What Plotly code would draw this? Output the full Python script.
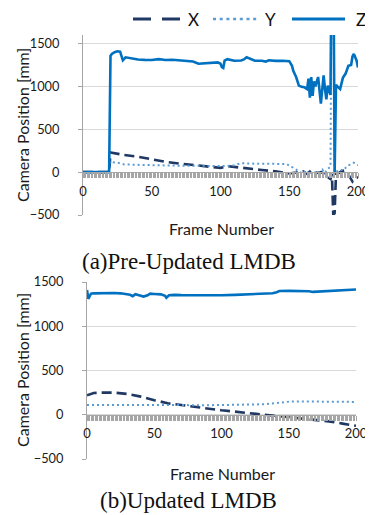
import plotly.graph_objects as go

# ---------------- data ----------------
# (a) Pre-Updated LMDB
a_z_frames = [0, 19, 20, 21, 23, 25, 27, 28, 29, 31, 35, 40, 45, 50, 55, 60, 65, 70, 75, 80, 84, 90, 95, 98, 100,
              101, 102, 103, 105, 110, 115, 117, 119, 121, 125, 130, 133, 135, 140, 145, 150, 152, 153, 155, 157,
              159, 161, 163, 164, 165, 166, 167, 168, 169, 171, 173, 175, 176, 177, 178, 180, 181, 182, 183, 184,
              185, 187, 189, 191, 193, 195, 196, 197, 199, 200]
a_z_values = [0, 0, 1355, 1380, 1400, 1410, 1405, 1340, 1305, 1340, 1325, 1315, 1310, 1308, 1318, 1308, 1312, 1305,
              1300, 1290, 1265, 1272, 1275, 1280, 1265, 1225, 1215, 1300, 1318, 1300, 1302, 1315, 1340, 1325, 1300,
              1300, 1290, 1305, 1298, 1300, 1295, 1240, 1180, 1110, 1010, 995, 990, 970, 1090, 870, 1110, 890, 1060,
              1000, 1110, 800, 1130, 970, 850, 1010, 900, 3000, 3000, -20, 1020, 1000, 970, 1100, 1150, 1240, 1250,
              1350, 1380, 1300, 1220]

a_x_frames = [0, 19, 20, 25, 30, 40, 50, 60, 70, 80, 90, 100, 105, 110, 120, 130, 140, 150, 155, 160, 163, 166, 170,
              173, 176, 178, 180, 181, 182, 183, 184, 186, 188, 190, 192, 194, 196, 198, 200]
a_x_values = [0, 0, 230, 215, 200, 180, 150, 120, 100, 85, 70, 50, 70, 60, 45, 25, 10, -15, -5, 10, -20, 20, -10,
              0, -20, -60, -80, -20, -500, -480, -20, -10, 10, 20, 0, -60, -110, -70, -60]

a_y_frames = [0, 19, 20, 22, 25, 30, 40, 50, 60, 70, 80, 90, 100, 105, 110, 115, 120, 130, 140, 148, 152, 155, 158,
              160, 162, 165, 167, 170, 172, 174, 176, 178, 180, 181, 182, 183, 185, 187, 189, 191, 193, 195, 197, 200]
a_y_values = [0, 0, 130, 115, 110, 90, 85, 80, 80, 75, 75, 70, 65, 70, 80, 105, 100, 100, 100, 95, 60, 30, 0, -20,
              20, -30, 10, -20, 0, 30, -10, 40, 60, 3000, 3000, 0, 10, 30, 20, 50, 80, 90, 110, 80]

# (b) Updated LMDB
b_z_frames = [0, 1, 2, 3, 5, 10, 15, 20, 25, 29, 32, 34, 36, 40, 42, 45, 47, 50, 55, 58, 59, 61, 65, 70, 80, 90,
              100, 110, 120, 130, 138, 141, 143, 150, 160, 165, 168, 172, 178, 183, 190, 195, 200]
b_z_values = [1410, 1310, 1340, 1368, 1372, 1375, 1378, 1375, 1372, 1365, 1355, 1340, 1362, 1345, 1335, 1350, 1368,
              1365, 1360, 1345, 1322, 1350, 1355, 1352, 1350, 1350, 1350, 1355, 1360, 1368, 1372, 1385, 1398, 1400,
              1402, 1395, 1388, 1392, 1398, 1405, 1408, 1410, 1415]

b_x_frames = [0, 5, 10, 20, 30, 40, 50, 60, 70, 80, 90, 100, 110, 120, 130, 140, 150, 160, 170, 180, 190, 200]
b_x_values = [220, 245, 250, 250, 235, 205, 165, 130, 110, 90, 65, 50, 35, 20, 3, -10, -25, -40, -55, -75, -100, -125]

b_y_frames = [0, 10, 20, 30, 40, 50, 60, 70, 80, 90, 100, 110, 120, 130, 140, 145, 150, 160, 170, 180, 190, 200]
b_y_values = [110, 112, 112, 110, 110, 110, 108, 105, 105, 108, 110, 112, 115, 118, 130, 140, 148, 150, 150, 150,
              150, 145]

x_tick_step = 50
y_ticks = [-500, 0, 500, 1000, 1500]
series_names = ["X", "Y", "Z"]
captions = ["(a)Pre-Updated LMDB", "(b)Updated LMDB"]

# ---------------- styling ----------------
OFF = 8                      # default page margin of the html body
W, H = 373 - OFF, 515 - OFF
C_X, C_Y, C_Z = "#1F3864", "#5B9BD5", "#0070C0"
COLORS = [C_X, C_Y, C_Z]
DASH_PLOT = ["10px,5px", "2px,3px", "solid"]
DASH_LEG = ["18px,11px", "3px,3.7px", "solid"]
WIDTHS = [2.6, 2.0, 2.6]
GRID = "#D9D9D9"
AXIS = "#A6A6A6"
SANS = "Lato, 'Open Sans', sans-serif"
SERIF = "'Liberation Serif', 'DejaVu Serif', serif"

def px(p):
    return (p - OFF) / W

def py(p):
    return 1 - (p - OFF) / H

fig = go.Figure()

def add_series(frames, values, xa, ya):
    for i in range(3):
        fig.add_trace(go.Scatter(x=frames[i], y=values[i], mode="lines", name=series_names[i], showlegend=False,
                                 line=dict(color=COLORS[i], width=WIDTHS[i], dash=DASH_PLOT[i]),
                                 xaxis=xa, yaxis=ya))

add_series([a_x_frames, a_y_frames, a_z_frames], [a_x_values, a_y_values, a_z_values], "x", "y")
add_series([b_x_frames, b_y_frames, b_z_frames], [b_x_values, b_y_values, b_z_values], "x2", "y2")

top_dom = [py(215), py(35)]
bot_dom = [py(459), py(282)]
top_rng = [-500, 1600]
bot_rng = [-500, 1500]
top_xdom = [px(83), px(358)]
bot_xdom = [px(87), px(356)]

def zero_pos(dom, rng):
    return dom[0] + (0 - rng[0]) / (rng[1] - rng[0]) * (dom[1] - dom[0])

def xaxis_cfg(dom, pos):
    return dict(domain=dom, range=[0, 200], anchor="free", position=pos, showgrid=False, zeroline=False,
                tickmode="linear", tick0=0, dtick=x_tick_step, ticks="outside", ticklen=5, tickcolor=AXIS,
                tickwidth=1, showline=True, linecolor=AXIS, linewidth=1, automargin=False,
                ticklabelstandoff=2, tickfont=dict(family=SANS, size=13, color="#1a1a1a"))

def minor_cfg(dom, pos, over):
    return dict(domain=dom, range=[0, 200], anchor="free", position=pos, overlaying=over, showgrid=False,
                zeroline=False, tickmode="linear", tick0=0, dtick=1, ticks="outside", ticklen=5,
                tickcolor=AXIS, tickwidth=1, showline=False, showticklabels=False, automargin=False)

def yaxis_cfg(dom, rng, anchor):
    return dict(domain=dom, range=rng, anchor=anchor, tickvals=y_ticks, showgrid=True, gridcolor=GRID,
                gridwidth=1, zeroline=False, showline=True, linecolor=AXIS, linewidth=1, ticks="outside",
                ticklen=4, tickcolor=AXIS, ticklabelstandoff=16,
                automargin=False, tickfont=dict(family=SANS, size=12.8, color="#1a1a1a"))

top_pos = zero_pos(top_dom, top_rng)
bot_pos = zero_pos(bot_dom, bot_rng)

fig.update_layout(
    width=W, height=H, margin=dict(l=0, r=0, t=0, b=0, autoexpand=False),
    paper_bgcolor="white", plot_bgcolor="white",
    xaxis=xaxis_cfg(top_xdom, top_pos),
    yaxis=yaxis_cfg(top_dom, top_rng, "x"),
    xaxis2=xaxis_cfg(bot_xdom, bot_pos),
    yaxis2=yaxis_cfg(bot_dom, bot_rng, "x2"),
    xaxis3=minor_cfg(top_xdom, top_pos, "x"),
    xaxis4=minor_cfg(bot_xdom, bot_pos, "x2"),
    showlegend=False,
)

# invisible traces so the minor-tick axes are drawn
for xa, ya in [("x3", "y"), ("x4", "y2")]:
    fig.add_trace(go.Scatter(x=[None], y=[None], xaxis=xa, yaxis=ya, showlegend=False, hoverinfo="skip"))

# legend (drawn by hand to match line lengths)
leg_y = 19
leg_lines = [(133, 181), (213, 259), (292, 345)]
leg_text_x = [186, 263, 354]
shapes = []
ann = []
for i in range(3):
    x0, x1 = leg_lines[i]
    shapes.append(dict(type="line", xref="paper", yref="paper", x0=px(x0), x1=px(x1), y0=py(leg_y), y1=py(leg_y),
                       line=dict(color=COLORS[i], width=3.2 if i != 1 else 2.6, dash=DASH_LEG[i])))
    ann.append(dict(text=series_names[i], x=px(leg_text_x[i]), y=py(leg_y), xref="paper", yref="paper",
                    xanchor="left", yanchor="middle", showarrow=False,
                    font=dict(family=SANS, size=17, color="#111")))

for yc in [125, 370]:
    ann.append(dict(text="Camera Position [mm]", x=px(22), y=py(yc), xref="paper", yref="paper",
                    xanchor="center", yanchor="middle",
                    showarrow=False, textangle=-90, font=dict(family=SANS, size=16, color="#1a1a1a")))
for xc, yc in [(221, 228), (222, 473)]:
    ann.append(dict(text="Frame Number", x=px(xc), y=py(yc), xref="paper", yref="paper",
                    xanchor="center", yanchor="middle",
                    showarrow=False, font=dict(family=SANS, size=16, color="#1a1a1a")))
for xc, yc, cap in zip([189, 188.5], [261, 500], captions):
    ann.append(dict(text=cap, x=px(xc), y=py(yc), xref="paper", yref="paper",
                    xanchor="center", yanchor="middle",
                    showarrow=False, font=dict(family=SERIF, size=23, color="#111")))
fig.update_layout(annotations=ann, shapes=shapes)

fig.write_html("out.html")
